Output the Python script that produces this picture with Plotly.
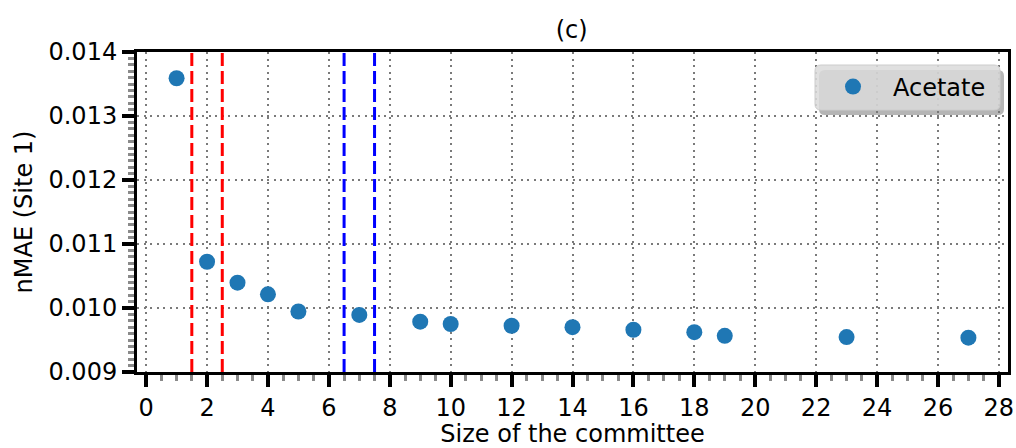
import plotly.graph_objects as go

# ---- data ----
committee_size = [1, 2, 3, 4, 5, 7, 9, 10, 12, 14, 16, 18, 19, 23, 27]
nmae_acetate = [0.01359, 0.010723, 0.010396, 0.010214, 0.009945, 0.009892,
                0.009786, 0.00975, 0.009723, 0.009700, 0.009660, 0.009622,
                0.009565, 0.009545, 0.009537]
red_lines = [1.5, 2.5]
blue_lines = [6.5, 7.5]
x_range = [-0.3, 28.3]
y_range = [0.009, 0.014]
x_ticks = list(range(0, 29, 2))
y_ticks = [0.009, 0.010, 0.011, 0.012, 0.013, 0.014]
y_tick_labels = ["0.009", "0.010", "0.011", "0.012", "0.013", "0.014"]

FONT = "DejaVu Sans"

W, H = 1016, 448
L, R, T, B = 137, 8, 52, H - 372

fig = go.Figure()
fig.add_trace(go.Scatter(
    x=committee_size, y=nmae_acetate, mode="markers", name="Acetate",
    marker=dict(color="#1f77b4", size=16, line=dict(width=0)),
))

shapes = []
for xv in red_lines:
    shapes.append(dict(type="line", xref="x", yref="paper", x0=xv, x1=xv, y0=0, y1=1,
                       line=dict(color="#ff0000", width=3, dash="13px,5px"), layer="above"))
for xv in blue_lines:
    shapes.append(dict(type="line", xref="x", yref="paper", x0=xv, x1=xv, y0=0, y1=1,
                       line=dict(color="#0000ff", width=3, dash="13px,5px"), layer="above"))

# legend box (rounded, with shadow) in paper coords
pw, ph = float(W - L - R), float(H - T - B)
def px2x(sx):
    return (sx - L) / pw
def px2y(sy):
    return (H - B - sy) / ph

def rrect(x0, y0, x1, y1, r=6):
    rx, ry = r / pw, r / ph
    return (f"M {x0+rx},{y1} L {x1-rx},{y1} Q {x1},{y1} {x1},{y1-ry} "
            f"L {x1},{y0+ry} Q {x1},{y0} {x1-rx},{y0} L {x0+rx},{y0} "
            f"Q {x0},{y0} {x0},{y0+ry} L {x0},{y1-ry} Q {x0},{y1} {x0+rx},{y1} Z")

bx0, bx1 = px2x(815), px2x(1000)
by1, by0 = px2y(65), px2y(110)
sdx, sdy = 4 / pw, 5 / ph
shapes.append(dict(type="path", xref="paper", yref="paper",
                   path=rrect(bx0 + sdx, by0 - sdy, bx1 + sdx, by1 - sdy),
                   fillcolor="rgba(120,120,120,0.55)", line=dict(width=0), layer="above"))
shapes.append(dict(type="path", xref="paper", yref="paper",
                   path=rrect(bx0, by0, bx1, by1),
                   fillcolor="rgba(218,218,218,0.85)", line=dict(color="#cccccc", width=1),
                   layer="above"))

fig.update_layout(
    width=W, height=H,
    margin=dict(l=L, r=R, t=T, b=B, pad=0),
    paper_bgcolor="white", plot_bgcolor="white",
    font=dict(family=FONT, size=24, color="black"),
    title=dict(text="(c)", x=571.7 / W, xanchor="center", y=1 - 30 / H,
               yanchor="middle", font=dict(size=24, family=FONT)),
    shapes=shapes,
    showlegend=True,
    legend=dict(x=px2x(813), xanchor="left", y=px2y(87), yanchor="middle",
                bgcolor="rgba(0,0,0,0)", borderwidth=0, itemwidth=70,
                font=dict(size=24, family=FONT)),
)

common = dict(
    showline=True, linecolor="black", linewidth=3, mirror=True,
    showgrid=True, gridcolor="#7a7a7a", gridwidth=2, griddash="2px,4.5px",
    zeroline=False, ticks="outside", ticklen=12, tickwidth=4, tickcolor="black",
    automargin=False,
)
fig.update_xaxes(
    range=x_range, tickmode="array", tickvals=x_ticks,
    title=dict(text="Size of the committee", standoff=17, font=dict(size=24)),
    minor=dict(ticks="outside", ticklen=6, tickwidth=3, tickcolor="#8a8a8a", dtick=0.5,
               tick0=0, showgrid=False),
    **common,
)
fig.update_yaxes(
    range=y_range, tickmode="array", tickvals=y_ticks, ticktext=y_tick_labels,
    title=dict(text="nMAE (Site 1)", standoff=10, font=dict(size=24)),
    minor=dict(ticks="outside", ticklen=6, tickwidth=3, tickcolor="#8a8a8a", dtick=0.0001,
               tick0=0.009, showgrid=False),
    **common,
)

fig.write_html("out.html", config={"displayModeBar": False},
               post_script="document.body.style.margin='0px';")
